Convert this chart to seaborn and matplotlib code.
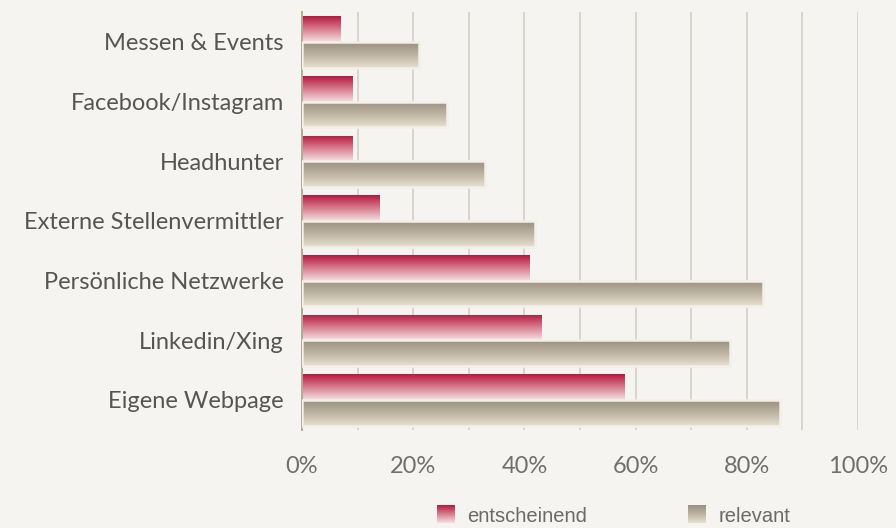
import numpy as np
import pandas as pd
import matplotlib
matplotlib.use("Agg")
import matplotlib.pyplot as plt
import seaborn as sns
from matplotlib.colors import LinearSegmentedColormap
from matplotlib.legend_handler import HandlerBase
from matplotlib.image import BboxImage
from matplotlib.transforms import Bbox, TransformedBbox
from matplotlib.patches import Patch

# --- DATEN ---
kanaele = ["Messen & Events", "Facebook/Instagram", "Headhunter",
           "Externe Stellenvermittler", "Persönliche Netzwerke",
           "Linkedin/Xing", "Eigene Webpage"]
entscheinend = [7, 9, 9, 14, 41, 43, 58]
relevant = [21, 26, 33, 42, 83, 77, 86]
serien = ["entscheinend", "relevant"]
x_ticks = list(range(0, 101, 10))
x_labels = [f"{t}%" if t % 20 == 0 else "" for t in x_ticks]

HINTERGRUND = "#f6f4f1"
cmap_rot = LinearSegmentedColormap.from_list("rot", ["#b5193f", "#d77d8f", "#f3e0df"])
cmap_grau = LinearSegmentedColormap.from_list("grau", ["#999080", "#bdb4a2", "#e7e0d0"])
verlauf = np.linspace(0, 1, 64).reshape(-1, 1)

df = pd.DataFrame({
    "Kanal": kanaele * 2,
    "Wert": entscheinend + relevant,
    "Serie": [serien[0]] * len(kanaele) + [serien[1]] * len(kanaele),
})

sns.set_style("white")
plt.rcParams["font.family"] = ["Lato", "DejaVu Sans"]

fig = plt.figure(figsize=(8.96, 5.28), dpi=100, facecolor=HINTERGRUND)
ax = fig.add_axes([0.337, 0.186, 0.6206, 0.791])
ax.set_facecolor(HINTERGRUND)

sns.barplot(data=df, y="Kanal", x="Wert", hue="Serie", orient="h",
            palette=["#c0385a", "#b0a794"], width=0.86, legend=False,
            saturation=1, ax=ax)

# Farbverlauf in jeden Balken legen
n = len(kanaele)
for i, bar in enumerate(ax.patches):
    x0, y0 = bar.get_x(), bar.get_y()
    w, h = bar.get_width(), bar.get_height()
    cmap = cmap_rot if i < n else cmap_grau
    img = ax.imshow(verlauf, cmap=cmap, aspect="auto", interpolation="bicubic",
                    extent=[x0, x0 + w, y0 + h, y0], zorder=2)
    img.set_clip_path(bar)
    bar.set_facecolor("none")
    if i >= n:
        bar.set_edgecolor("#f3f0ea")
        bar.set_linewidth(1.8)
    else:
        bar.set_linewidth(0)
    bar.set_zorder(3)

ax.set_xlim(0, 100)
ax.set_ylim(n - 0.5, -0.5)
ax.set_xticks(x_ticks)
ax.set_xticklabels(x_labels, fontsize=17, color="#6f6f6f")
ax.tick_params(axis="x", length=7, width=1, color="#cfcac3", pad=12, direction="out")
ax.tick_params(axis="y", length=0, pad=13, labelsize=17, labelcolor="#555555")
ax.xaxis.grid(True, color="#d3cfc9", linewidth=1.2, zorder=0)
ax.set_axisbelow(True)
ax.set_xlabel("")
ax.set_ylabel("")
for s in ["top", "right", "bottom"]:
    ax.spines[s].set_visible(False)
ax.spines["left"].set_color("#b3a993")
ax.spines["left"].set_linewidth(1.4)


class VerlaufHandler(HandlerBase):
    def __init__(self, cmap):
        super().__init__()
        self.cmap = cmap

    def create_artists(self, legend, orig_handle, xdescent, ydescent,
                       width, height, fontsize, trans):
        bb = Bbox.from_bounds(-xdescent, -ydescent, width, height)
        bild = BboxImage(TransformedBbox(bb, trans), cmap=self.cmap,
                         interpolation="bicubic")
        bild.set_data(verlauf)
        return [bild]


h_rot = Patch(label=serien[0])
h_grau = Patch(label=serien[1])
leg = fig.legend(handles=[h_rot, h_grau], loc="lower center",
                 bbox_to_anchor=(0.685, -0.03), ncol=2, frameon=False,
                 handler_map={h_rot: VerlaufHandler(cmap_rot),
                              h_grau: VerlaufHandler(cmap_grau)},
                 prop={"family": ["Liberation Sans"], "size": 14.5},
                 handlelength=0.85, handleheight=0.95, handletextpad=0.65,
                 columnspacing=5.0)
for t in leg.get_texts():
    t.set_color("#6a6a6a")

fig.savefig("out.png", dpi=100, facecolor=HINTERGRUND)
